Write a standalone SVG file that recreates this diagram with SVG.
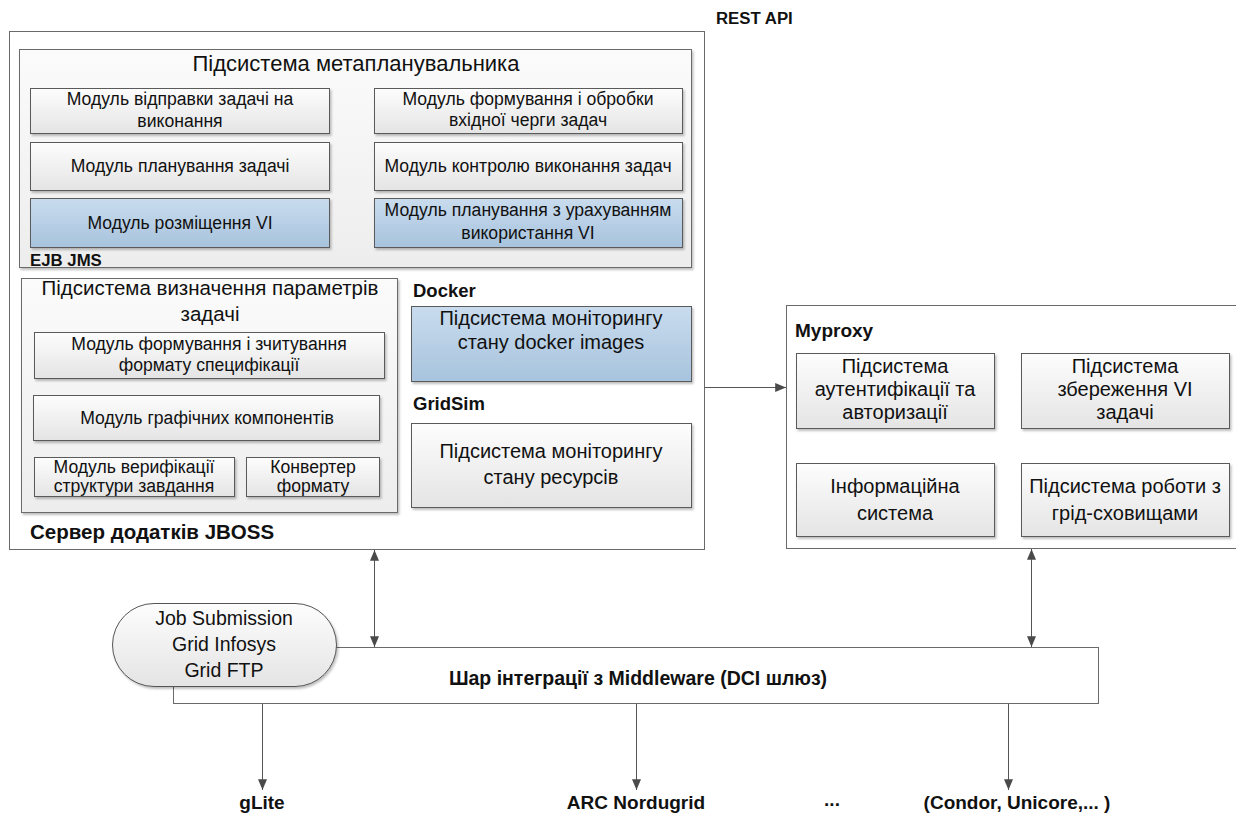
<svg xmlns="http://www.w3.org/2000/svg" width="1236" height="813" viewBox="0 0 1236 813">
<defs>
<linearGradient id="gw" x1="0" y1="0" x2="0" y2="1"><stop offset="0" stop-color="#fdfdfd"/><stop offset="1" stop-color="#e4e4e4"/></linearGradient>
<linearGradient id="gc" x1="0" y1="0" x2="0" y2="1"><stop offset="0" stop-color="#fbfbfb"/><stop offset="1" stop-color="#ededed"/></linearGradient>
<linearGradient id="gb" x1="0" y1="0" x2="0" y2="1"><stop offset="0" stop-color="#c9dcee"/><stop offset="1" stop-color="#a7c3dd"/></linearGradient>
<filter id="sh" x="-5%" y="-5%" width="110%" height="120%"><feDropShadow dx="1.5" dy="2" stdDeviation="1" flood-color="#000" flood-opacity="0.25"/></filter>
<marker id="ah2" viewBox="0 0 12 10" refX="12" refY="5" markerWidth="12" markerHeight="9" orient="auto-start-reverse" markerUnits="userSpaceOnUse"><path d="M0,0 L12,5 L0,10 z" fill="#4a4a4a"/></marker>
</defs>
<style>
text{font-family:"Liberation Sans",Arial,sans-serif;fill:#111;}
.t{font-size:17.6px;text-anchor:middle;}
.t18{font-size:20px;text-anchor:middle;}
.b{font-weight:bold;font-size:16.8px;}
.bl{font-weight:bold;font-size:18.5px;}
.bc{font-weight:bold;font-size:19px;text-anchor:middle;}
.mod{fill:url(#gw);stroke:#5a5a5a;stroke-width:1;filter:url(#sh);}
.blue{fill:url(#gb);stroke:#5a5a5a;stroke-width:1;filter:url(#sh);}
.cont{fill:url(#gc);stroke:#6a6a6a;stroke-width:1;filter:url(#sh);}
.outer{fill:#fff;stroke:#6a6a6a;stroke-width:1;}
.ln{fill:none;stroke:#555;stroke-width:1;}
</style>

<g id="rest-api"><text class="b" x="716" y="24">REST API</text></g>

<g id="jboss">
<rect class="outer" x="9.5" y="31.5" width="695" height="518"/>
<text class="b" x="30" y="539" style="font-size:20.5px">Сервер додатків JBOSS</text>
</g>

<g id="metaplanner">
<rect class="cont" x="19.5" y="49.5" width="672" height="218"/>
<text x="356" y="71" style="font-size:22px;text-anchor:middle">Підсистема метапланувальника</text>
</g>
<g id="m-send"><rect class="mod" x="30.5" y="88.5" width="299" height="45"/><text class="t" x="180" y="105">Модуль відправки задачі на</text><text class="t" x="180" y="127">виконання</text></g>
<g id="m-queue"><rect class="mod" x="374.5" y="88.5" width="308" height="45"/><text class="t" x="528" y="105">Модуль формування і обробки</text><text class="t" x="528" y="126">вхідної черги задач</text></g>
<g id="m-plan"><rect class="mod" x="30.5" y="142.5" width="299" height="48"/><text class="t" x="180" y="172">Модуль планування задачі</text></g>
<g id="m-control"><rect class="mod" x="374.5" y="142.5" width="308" height="48"/><text class="t" x="528" y="172">Модуль контролю виконання задач</text></g>
<g id="m-vi"><rect class="blue" x="30.5" y="198.5" width="299" height="49"/><text class="t" x="180" y="229">Модуль розміщення VI</text></g>
<g id="m-planvi"><rect class="blue" x="374.5" y="198.5" width="308" height="49"/><text class="t" x="528" y="216">Модуль планування з урахуванням</text><text class="t" x="528" y="239">використання VI</text></g>
<g id="ejb"><text class="b" x="30" y="266">EJB JMS</text></g>

<g id="params">
<rect class="cont" x="21.5" y="278.5" width="376" height="234"/>
<text x="210" y="295" style="font-size:20.5px;text-anchor:middle">Підсистема визначення параметрів</text>
<text x="210" y="321" style="font-size:20.5px;text-anchor:middle">задачі</text>
</g>
<g id="p-format"><rect class="mod" x="34.5" y="332.5" width="350" height="46"/><text class="t" x="209" y="350">Модуль формування і зчитування</text><text class="t" x="209" y="371">формату специфікації</text></g>
<g id="p-graph"><rect class="mod" x="33.5" y="395.5" width="346" height="45"/><text class="t" x="207" y="424">Модуль графічних компонентів</text></g>
<g id="p-verify"><rect class="mod" x="34.5" y="457.5" width="200" height="39"/><text class="t" x="134" y="473">Модуль верифікації</text><text class="t" x="134" y="492">структури завдання</text></g>
<g id="p-conv"><rect class="mod" x="246.5" y="457.5" width="133" height="39"/><text class="t" x="313" y="473">Конвертер</text><text class="t" x="313" y="492">формату</text></g>

<g id="docker">
<text class="bl" x="413" y="297">Docker</text>
<rect class="blue" x="411.5" y="306.5" width="280" height="75"/>
<text class="t18" x="551" y="325">Підсистема моніторингу</text>
<text class="t18" x="551" y="349">стану docker images</text>
</g>
<g id="gridsim">
<text class="bl" x="413" y="410">GridSim</text>
<rect class="mod" x="411.5" y="423.5" width="280" height="84"/>
<text class="t18" x="551" y="458">Підсистема моніторингу</text>
<text class="t18" x="551" y="484">стану ресурсів</text>
</g>

<g id="myproxy">
<rect class="outer" x="786.5" y="305.5" width="460" height="243"/>
<text class="bl" x="795" y="337" style="font-size:19px">Myproxy</text>
</g>
<g id="mp-auth"><rect class="mod" x="796.5" y="353.5" width="198" height="75"/><text class="t18" x="895" y="373">Підсистема</text><text class="t18" x="895" y="396">аутентифікації та</text><text class="t18" x="895" y="419">авторизації</text></g>
<g id="mp-store"><rect class="mod" x="1021.5" y="353.5" width="208" height="75"/><text class="t18" x="1125" y="373">Підсистема</text><text class="t18" x="1125" y="396">збереження VI</text><text class="t18" x="1125" y="419">задачі</text></g>
<g id="mp-info"><rect class="mod" x="796.5" y="463.5" width="198" height="73"/><text class="t18" x="895" y="493">Інформаційна</text><text class="t18" x="895" y="520">система</text></g>
<g id="mp-grid"><rect class="mod" x="1021.5" y="463.5" width="208" height="73"/><text class="t18" x="1125" y="493">Підсистема роботи з</text><text class="t18" x="1125" y="520">грід-сховищами</text></g>

<g id="middleware">
<rect x="173.5" y="647.5" width="925" height="56" fill="#fff" stroke="#6a6a6a"/>
<text class="bc" x="638" y="685" style="font-size:19.5px">Шар інтеграції з Middleware (DCI шлюз)</text>
</g>
<g id="services">
<rect x="112.5" y="603.5" width="224" height="83" rx="41.5" ry="41.5" fill="url(#gw)" stroke="#555" filter="url(#sh)"/>
<text x="224" y="625" style="font-size:19.5px;text-anchor:middle">Job Submission</text>
<text x="224" y="651" style="font-size:19.5px;text-anchor:middle">Grid Infosys</text>
<text x="224" y="677" style="font-size:19.5px;text-anchor:middle">Grid FTP</text>
</g>

<g id="connectors">
<line class="ln" x1="705" y1="387.5" x2="786" y2="387.5" marker-end="url(#ah2)"/>
<line class="ln" x1="374.5" y1="550" x2="374.5" y2="647" marker-start="url(#ah2)" marker-end="url(#ah2)"/>
<line class="ln" x1="1031.5" y1="549" x2="1031.5" y2="647" marker-start="url(#ah2)" marker-end="url(#ah2)"/>
<line class="ln" x1="262.5" y1="704" x2="262.5" y2="790" marker-end="url(#ah2)"/>
<line class="ln" x1="636.5" y1="704" x2="636.5" y2="790" marker-end="url(#ah2)"/>
<line class="ln" x1="1008.5" y1="704" x2="1008.5" y2="790" marker-end="url(#ah2)"/>
</g>

<g id="targets">
<text class="bc" x="262" y="809">gLite</text>
<text class="bc" x="636" y="809">ARC Nordugrid</text>
<text class="bc" x="832" y="806">...</text>
<text class="bc" x="1017" y="809">(Condor, Unicore,... )</text>
</g>
</svg>
